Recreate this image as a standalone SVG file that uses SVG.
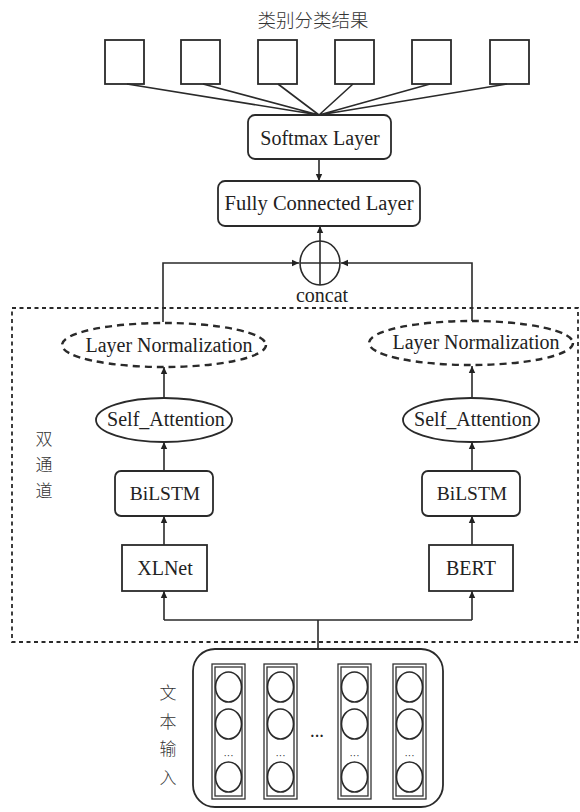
<svg xmlns="http://www.w3.org/2000/svg" width="580" height="812" viewBox="0 0 580 812">
<defs>
<marker id="ah" markerWidth="8" markerHeight="8" refX="7" refY="4" orient="auto" markerUnits="userSpaceOnUse">
<path d="M0,0.8 L7,4 L0,7.2 Z" fill="#222"/>
</marker>
</defs>
<style>
.ln{fill:none;stroke:#2a2a2a;stroke-width:1.6}
.box{fill:#fff;stroke:#2a2a2a;stroke-width:1.8}
.dash{fill:none;stroke:#2a2a2a;stroke-width:2.4;stroke-dasharray:7 5}
.frame{fill:none;stroke:#2a2a2a;stroke-width:1.8;stroke-dasharray:4 3.5}
.t{font-family:"Liberation Serif","Times New Roman",serif;fill:#222;text-anchor:middle}
.cj{font-family:"Noto Sans CJK SC","Noto Sans",sans-serif;fill:#333;text-anchor:middle;font-weight:300}
.col{fill:none;stroke:#333;stroke-width:1.3}
.cir{fill:#fff;stroke:#2a2a2a;stroke-width:1.6}
</style>
<rect width="580" height="812" fill="#fff"/>

<g id="title"><text class="cj" x="313" y="27" font-size="18.5">类别分类结果</text></g>

<g id="outputs">
<rect class="box" x="105" y="40" width="39" height="44"/>
<rect class="box" x="181" y="40" width="39" height="44"/>
<rect class="box" x="258" y="40" width="39" height="44"/>
<rect class="box" x="335" y="40" width="39" height="44"/>
<rect class="box" x="412" y="40" width="39" height="44"/>
<rect class="box" x="490" y="40" width="39" height="44"/>
</g>

<g id="connectors">
<path class="ln" d="M127,84 L319,115 M203,84 L319,115 M278,84 L319,115 M353,84 L319,115 M430,84 L319,115 M507,84 L319,115"/>
<path class="ln" d="M319,159 L319,181" marker-end="url(#ah)"/>
<path class="ln" d="M320,285 L320,226" marker-end="url(#ah)"/>
<path class="ln" d="M163,322 L163,263 L299,263" marker-end="url(#ah)"/>
<path class="ln" d="M472,321 L472,263 L341,263" marker-end="url(#ah)"/>
<path class="ln" d="M164,397 L164,367" marker-end="url(#ah)"/>
<path class="ln" d="M472,397 L472,366" marker-end="url(#ah)"/>
<path class="ln" d="M164,471 L164,442" marker-end="url(#ah)"/>
<path class="ln" d="M472,471 L472,442" marker-end="url(#ah)"/>
<path class="ln" d="M164,545 L164,516" marker-end="url(#ah)"/>
<path class="ln" d="M472,545 L472,516" marker-end="url(#ah)"/>
<path class="ln" d="M318,649 L318,620 M164,620 L472,620"/>
<path class="ln" d="M164,620 L164,591" marker-end="url(#ah)"/>
<path class="ln" d="M472,620 L472,591" marker-end="url(#ah)"/>
</g>

<g id="softmax">
<rect class="box" x="248" y="115" width="143" height="44" rx="7"/>
<text class="t" x="320" y="145" font-size="20">Softmax Layer</text>
</g>

<g id="fc">
<rect class="box" x="218" y="181" width="202" height="45" rx="7"/>
<text class="t" x="319" y="210" font-size="20.5">Fully Connected Layer</text>
</g>

<g id="concat">
<ellipse class="ln" cx="320" cy="263" rx="20" ry="22"/>
<path class="ln" d="M300,263 L340,263"/>
<text class="t" x="322" y="302" font-size="20">concat</text>
</g>

<g id="dual-channel">
<rect class="frame" x="12" y="308" width="566" height="334"/>
<text class="cj" x="44" y="445" font-size="17">双</text>
<text class="cj" x="44" y="471" font-size="17">通</text>
<text class="cj" x="44" y="497" font-size="17">道</text>
</g>

<g id="ln-left">
<ellipse class="dash" cx="164" cy="345" rx="102" ry="22"/>
<text class="t" x="169" y="352" font-size="20">Layer Normalization</text>
</g>
<g id="ln-right">
<ellipse class="dash" cx="471" cy="343" rx="102" ry="22"/>
<text class="t" x="476" y="349" font-size="20">Layer Normalization</text>
</g>

<g id="sa-left">
<ellipse class="box" cx="164" cy="420" rx="68" ry="22"/>
<text class="t" x="166" y="426" font-size="20">Self_Attention</text>
</g>
<g id="sa-right">
<ellipse class="box" cx="471" cy="420" rx="68" ry="22"/>
<text class="t" x="473" y="426" font-size="20">Self_Attention</text>
</g>

<g id="bilstm-left">
<rect class="box" x="115" y="471" width="98" height="45" rx="6"/>
<text class="t" x="165" y="500" font-size="19.5">BiLSTM</text>
</g>
<g id="bilstm-right">
<rect class="box" x="422" y="471" width="98" height="45" rx="6"/>
<text class="t" x="472" y="500" font-size="19.5">BiLSTM</text>
</g>

<g id="xlnet">
<rect class="box" x="122" y="545" width="85" height="46"/>
<text class="t" x="165" y="575" font-size="20">XLNet</text>
</g>
<g id="bert">
<rect class="box" x="429" y="545" width="84" height="46"/>
<text class="t" x="471" y="575" font-size="20">BERT</text>
</g>

<g id="text-input">
<rect class="box" x="193" y="649" width="250" height="158" rx="22"/>
<text class="cj" x="168" y="699" font-size="17">文</text>
<text class="cj" x="168" y="728" font-size="17">本</text>
<text class="cj" x="168" y="755" font-size="17">输</text>
<text class="cj" x="168" y="784" font-size="17">入</text>
<g id="col1">
<rect class="col" x="212" y="664" width="33" height="135"/>
<rect class="col" x="215" y="667" width="27" height="129"/>
<ellipse class="cir" cx="228.5" cy="687" rx="13" ry="15"/>
<ellipse class="cir" cx="228.5" cy="724" rx="13" ry="15"/>
<ellipse class="cir" cx="228.5" cy="777" rx="13" ry="15"/>
<text class="t" x="228.5" y="759" font-size="10">···</text>
</g>
<g id="col2">
<rect class="col" x="264" y="664" width="33" height="135"/>
<rect class="col" x="267" y="667" width="27" height="129"/>
<ellipse class="cir" cx="280.5" cy="687" rx="13" ry="15"/>
<ellipse class="cir" cx="280.5" cy="724" rx="13" ry="15"/>
<ellipse class="cir" cx="280.5" cy="777" rx="13" ry="15"/>
<text class="t" x="280.5" y="759" font-size="10">···</text>
</g>
<text class="t" x="317" y="741" font-size="14" font-weight="bold">···</text>
<g id="col3">
<rect class="col" x="338" y="664" width="33" height="135"/>
<rect class="col" x="341" y="667" width="27" height="129"/>
<ellipse class="cir" cx="354.5" cy="687" rx="13" ry="15"/>
<ellipse class="cir" cx="354.5" cy="724" rx="13" ry="15"/>
<ellipse class="cir" cx="354.5" cy="777" rx="13" ry="15"/>
<text class="t" x="354.5" y="759" font-size="10">···</text>
</g>
<g id="col4">
<rect class="col" x="393" y="664" width="33" height="135"/>
<rect class="col" x="396" y="667" width="27" height="129"/>
<ellipse class="cir" cx="409.5" cy="687" rx="13" ry="15"/>
<ellipse class="cir" cx="409.5" cy="724" rx="13" ry="15"/>
<ellipse class="cir" cx="409.5" cy="777" rx="13" ry="15"/>
<text class="t" x="409.5" y="759" font-size="10">···</text>
</g>
</g>
</svg>
